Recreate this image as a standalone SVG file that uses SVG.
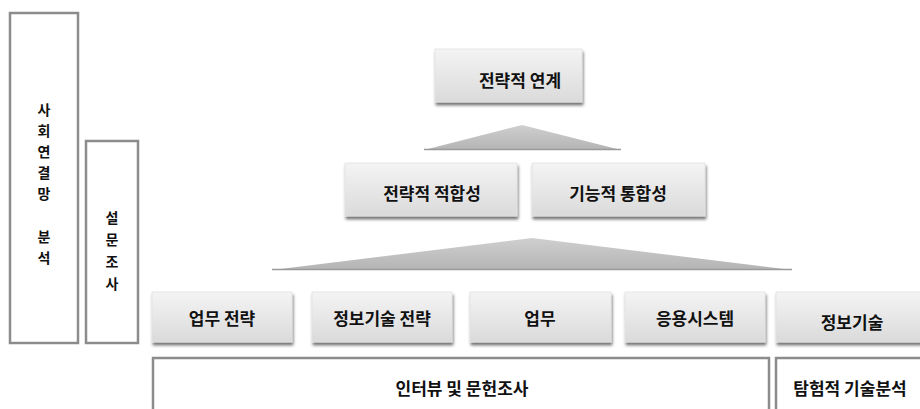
<svg xmlns="http://www.w3.org/2000/svg" width="920" height="409" viewBox="0 0 920 409">
<defs>
<linearGradient id="bg" x1="0" y1="0" x2="0" y2="1">
<stop offset="0" stop-color="#f4f4f4"/>
<stop offset="1" stop-color="#dadada"/>
</linearGradient>
<linearGradient id="tri" x1="0" y1="0" x2="0" y2="1">
<stop offset="0" stop-color="#cfcfcf"/>
<stop offset="1" stop-color="#b4b4b4"/>
</linearGradient>
<filter id="sh" x="-10%" y="-10%" width="120%" height="140%">
<feGaussianBlur in="SourceAlpha" stdDeviation="1.5"/>
<feOffset dx="1" dy="2.5" result="b"/>
<feComponentTransfer><feFuncA type="linear" slope="0.55"/></feComponentTransfer>
<feMerge><feMergeNode/><feMergeNode in="SourceGraphic"/></feMerge>
</filter>
</defs>
<style>
.box{fill:url(#bg);stroke:#e2e2e2;stroke-width:0.8;filter:url(#sh)}
.frame{fill:#fff;stroke:#8c8c8c;stroke-width:2.5}
.t{font-family:"Noto Sans CJK KR","Noto Sans",sans-serif;font-weight:bold;font-size:17px;fill:#111;text-anchor:middle;dominant-baseline:central}
.v{font-size:14px}
.tri{fill:url(#tri)}
</style>
<rect width="920" height="409" fill="#fff"/>
<g id="sna">
<rect class="frame" x="10" y="13" width="68" height="330"/>
<text class="t v" x="44" y="109">사</text>
<text class="t v" x="44" y="130">회</text>
<text class="t v" x="44" y="151">연</text>
<text class="t v" x="44" y="172">결</text>
<text class="t v" x="44" y="193">망</text>
<text class="t v" x="44" y="236">분</text>
<text class="t v" x="44" y="257">석</text>
</g>
<g id="survey">
<rect class="frame" x="86" y="141" width="52" height="202"/>
<text class="t v" x="112" y="217">설</text>
<text class="t v" x="112" y="239">문</text>
<text class="t v" x="112" y="261">조</text>
<text class="t v" x="112" y="283">사</text>
</g>
<g id="connectors">
<polygon class="tri" points="424,150 522,125 621,150"/>
<line x1="424" y1="149.5" x2="621" y2="149.5" stroke="#9a9a9a" stroke-width="1.5"/>
<polygon class="tri" points="272,270 532,238 792,270"/>
<line x1="272" y1="269.5" x2="792" y2="269.5" stroke="#9a9a9a" stroke-width="1.5"/>
</g>
<g id="n-link">
<rect class="box" x="435" y="49" width="147" height="53"/>
<text class="t" x="520" y="79">전략적 연계</text>
</g>
<g id="n-fit">
<rect class="box" x="345" y="163" width="172" height="53"/>
<text class="t" x="432" y="192">전략적 적합성</text>
</g>
<g id="n-int">
<rect class="box" x="532" y="163" width="173" height="53"/>
<text class="t" x="618" y="192">기능적 통합성</text>
</g>
<g id="n-bs">
<rect class="box" x="152" y="292" width="140" height="50"/>
<text class="t" x="222" y="317">업무 전략</text>
</g>
<g id="n-its">
<rect class="box" x="312" y="292" width="140" height="50"/>
<text class="t" x="382" y="317">정보기술 전략</text>
</g>
<g id="n-b">
<rect class="box" x="470" y="292" width="141" height="50"/>
<text class="t" x="540" y="317">업무</text>
</g>
<g id="n-app">
<rect class="box" x="625" y="292" width="140" height="50"/>
<text class="t" x="695" y="317">응용시스템</text>
</g>
<g id="n-it">
<rect class="box" x="776" y="292" width="150" height="50"/>
<text class="t" x="852" y="321">정보기술</text>
</g>
<g id="interview">
<rect class="frame" x="153" y="358" width="616" height="60"/>
<text class="t" x="462" y="387">인터뷰 및 문헌조사</text>
</g>
<g id="explore">
<rect class="frame" x="776" y="358" width="160" height="60"/>
<text class="t" x="850" y="387">탐험적 기술분석</text>
</g>
</svg>
